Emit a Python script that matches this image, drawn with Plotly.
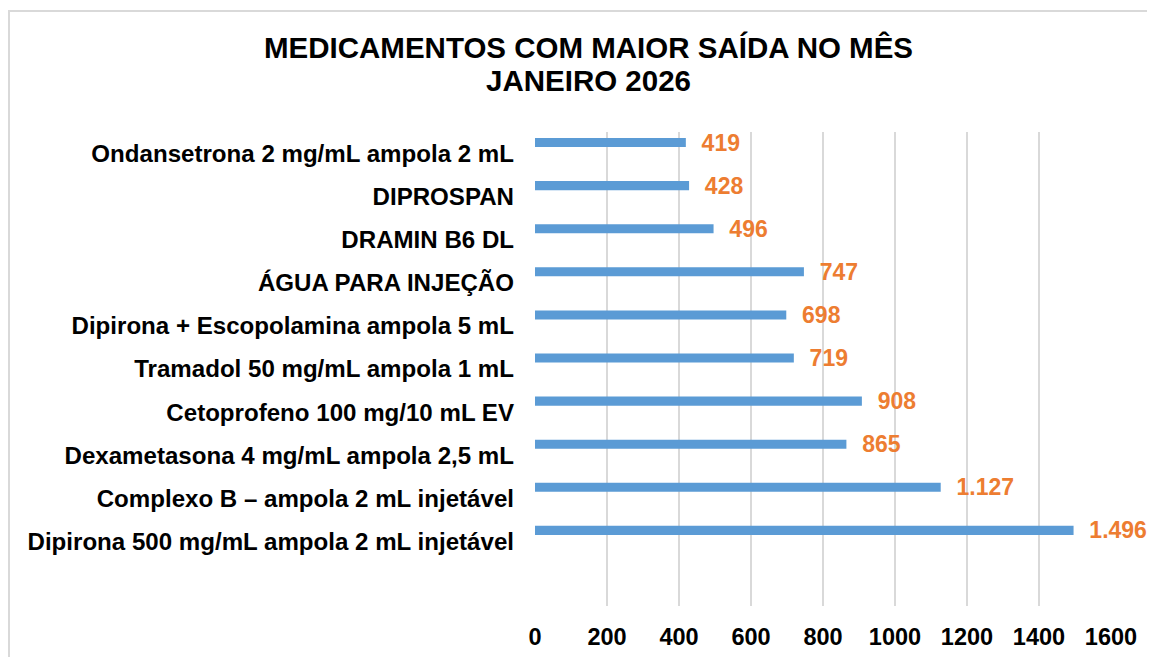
import plotly.graph_objects as go

# data, top to bottom as in the chart
medicamentos = [
    "Ondansetrona 2 mg/mL ampola 2 mL",
    "DIPROSPAN",
    "DRAMIN B6 DL",
    "ÁGUA PARA INJEÇÃO",
    "Dipirona + Escopolamina ampola 5 mL",
    "Tramadol 50 mg/mL ampola 1 mL",
    "Cetoprofeno 100 mg/10 mL EV",
    "Dexametasona 4 mg/mL ampola 2,5 mL",
    "Complexo B – ampola 2 mL injetável",
    "Dipirona 500 mg/mL ampola 2 mL injetável",
]
saidas = [419, 428, 496, 747, 698, 719, 908, 865, 1127, 1496]
x_ticks = [0, 200, 400, 600, 800, 1000, 1200, 1400, 1600]

# page has an 8px body margin, so the figure starts at (8, 8)
W, H = 1147, 649
L, T = 527, 124
pw, ph = 576, 474
R, B = W - L - pw, H - T - ph

fig = go.Figure()

fig.add_trace(go.Bar(
    y=medicamentos,
    x=saidas,
    orientation="h",
    marker=dict(color="#5B9BD5", line=dict(width=0)),
    width=0.21,
    offset=-0.36,
    texttemplate="  %{x:,}",
    textposition="outside",
    constraintext="none",
    cliponaxis=False,
    textfont=dict(family="Liberation Sans", size=23, color="#ED7D31", weight="bold"),
    hoverinfo="skip",
))

fig.update_layout(
    width=W, height=H,
    margin=dict(l=L, r=R, t=T, b=B, autoexpand=False),
    paper_bgcolor="white",
    plot_bgcolor="white",
    separators=",.",
    showlegend=False,
    font=dict(family="Liberation Sans", color="black"),
)

# two-line title
for txt, ypx in [("MEDICAMENTOS COM MAIOR SAÍDA NO MÊS", 39.5), ("JANEIRO 2026", 72)]:
    fig.add_annotation(
        text=f"<b>{txt}</b>",
        xref="paper", yref="paper",
        x=(580.5 - L) / pw, y=1 + (T - ypx) / ph,
        xanchor="center", yanchor="middle",
        showarrow=False,
        font=dict(size=29.5, color="black"),
    )

fig.update_xaxes(
    range=[0, 1600],
    tickvals=x_ticks,
    ticktext=[str(v) for v in x_ticks],
    showgrid=True, gridcolor="#D9D9D9", gridwidth=1.5,
    zeroline=False, showline=False,
    automargin=False,
    ticks="", ticklabelstandoff=14,
    tickfont=dict(size=23.5, color="black", weight="bold"),
)

fig.update_yaxes(
    type="category",
    categoryorder="array",
    categoryarray=medicamentos,
    range=[10.5, -0.5],
    showgrid=False, zeroline=False, showline=False,
    automargin=False,
    ticks="", ticklabelstandoff=20,
    tickfont=dict(size=24.1, color="black", weight="bold"),
)

# chart border
fig.add_shape(
    type="rect", xref="paper", yref="paper",
    x0=(1 - L) / pw, x1=(W + 20 - L) / pw,
    y0=-(B + 20) / ph, y1=1 + (T - 3) / ph,
    line=dict(color="#D9D9D9", width=2),
    fillcolor="rgba(0,0,0,0)",
    layer="below",
)

fig.write_html("out.html")
